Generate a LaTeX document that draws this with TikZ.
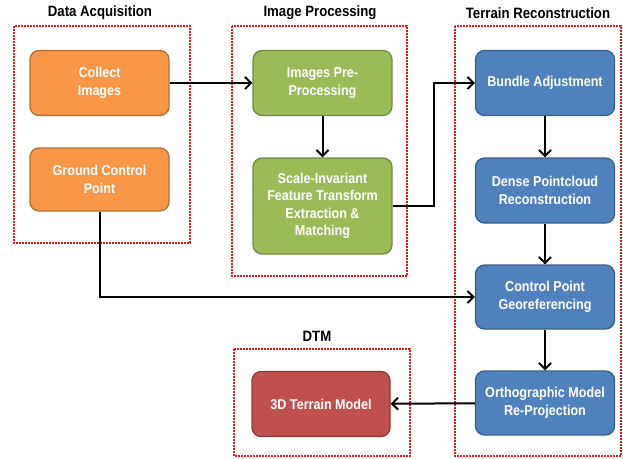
\documentclass[tikz,border=0pt]{standalone}
\usepackage{fontspec}
\setmainfont{Liberation Sans}[FakeStretch=0.88]
\usetikzlibrary{arrows.meta}
\definecolor{orfill}{HTML}{F79646}
\definecolor{ordraw}{HTML}{B66D31}
\definecolor{grfill}{HTML}{9BBB59}
\definecolor{grdraw}{HTML}{71893F}
\definecolor{blfill}{HTML}{4F81BD}
\definecolor{bldraw}{HTML}{385D8A}
\definecolor{rdfill}{HTML}{C0504D}
\definecolor{rddraw}{HTML}{8C3836}
\definecolor{framered}{HTML}{E8141B}
\begin{document}
\begin{tikzpicture}[x=1pt,y=-1pt,
  stage/.style={rounded corners=9pt, line width=1.3pt, minimum width=139pt,
    minimum height=65pt, align=center, text=white, inner sep=2pt,
    font=\fontsize{14.3}{17.5}\selectfont\bfseries},
  orbox/.style={stage, fill=orfill, draw=ordraw},
  grbox/.style={stage, fill=grfill, draw=grdraw},
  blbox/.style={stage, fill=blfill, draw=bldraw},
  rdbox/.style={stage, fill=rdfill, draw=rddraw},
  group/.style={draw=framered, line width=1.4pt, dash pattern=on 1.6pt off 1.4pt},
  heading/.style={font=\fontsize{15}{17}\selectfont\bfseries, text=black},
  flow/.style={line width=2pt, -{Straight Barb[length=6pt,width=12pt,line width=2pt]}}]
\useasboundingbox (0,0) rectangle (623,458);

% group frames
\draw[group] (14,26) rectangle (190,243);
\draw[group] (232,26) rectangle (407,276);
\draw[group] (455,26) rectangle (621,456);
\draw[group] (234,349) rectangle (410,456);

% group headings
\node[heading] (hda) at (100,13) {Data Acquisition};
\node[heading] (hip) at (320,13) {Image Processing};
\node[heading] (htr) at (538,13) {Terrain Reconstruction};
\node[heading] (hdtm) at (317,336) {DTM};

% stages
\node[orbox] (ci) at (99.5,83) {Collect\\Images};
\node[orbox, minimum height=63pt] (gcp) at (99.5,179.5) {Ground Control\\Point};
\node[grbox] (ipp) at (322.5,83) {Images Pre-\\Processing};
\node[grbox, minimum height=96pt] (sift) at (322.5,206) {Scale-Invariant\\Feature Transform\\Extraction \&\\Matching};
\node[blbox] (ba) at (545,83) {Bundle Adjustment};
\node[blbox] (dp) at (545,190.5) {Dense Pointcloud\\Reconstruction};
\node[blbox, minimum height=64pt] (cpg) at (545,297) {Control Point\\Georeferencing};
\node[blbox, minimum height=64pt] (omr) at (545,403) {Orthographic Model\\Re-Projection};
\node[rdbox, minimum width=138pt] (tm) at (321,404) {3D Terrain Model};

% connectors
\draw[flow] (ci) -- (ipp);
\draw[flow] (ipp) -- (sift);
\draw[flow] (sift.east) -- ++(41,0) |- (ba.west);
\draw[flow] (ba) -- (dp);
\draw[flow] (dp) -- (cpg);
\draw[flow] (cpg) -- (omr);
\draw[flow] (gcp.south) |- (cpg.west);
\draw[flow] (omr) -- (tm);
\end{tikzpicture}
\end{document}
